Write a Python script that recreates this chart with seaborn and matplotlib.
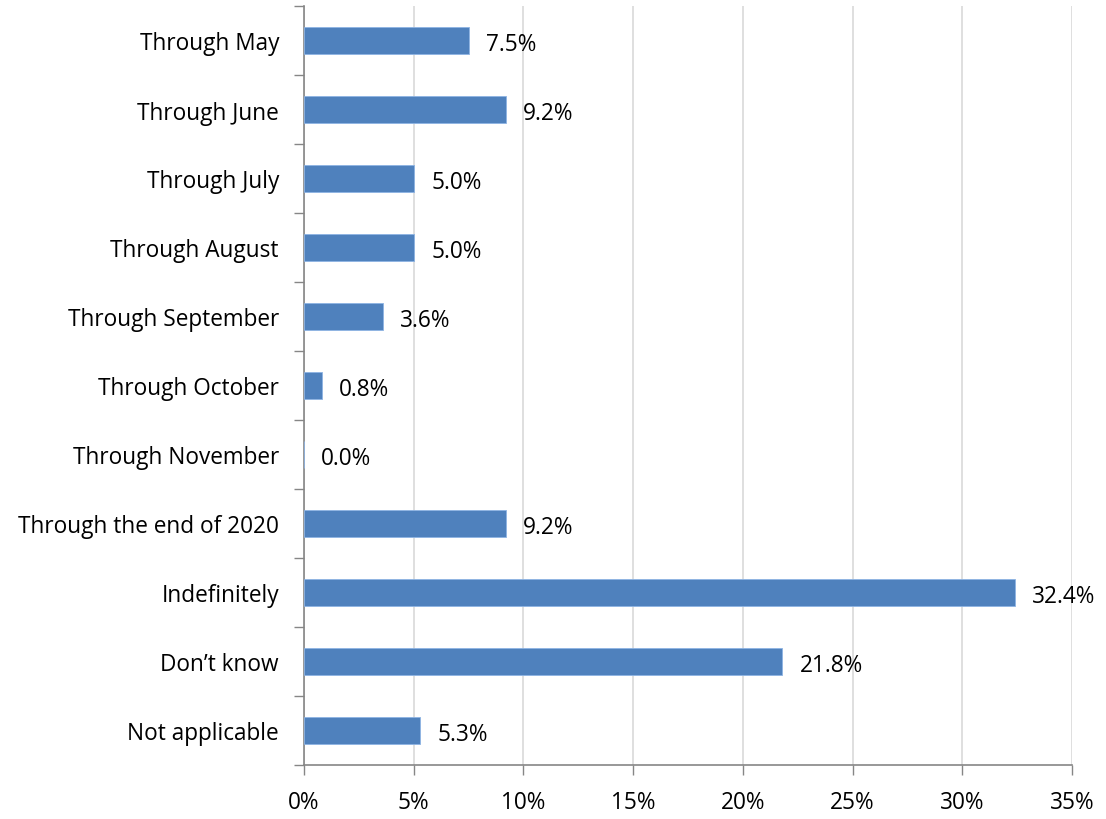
import matplotlib
matplotlib.use("Agg")
import matplotlib.pyplot as plt
import seaborn as sns
import pandas as pd
import numpy as np

categories = ["Through May", "Through June", "Through July", "Through August",
              "Through September", "Through October", "Through November",
              "Through the end of 2020", "Indefinitely", "Don\u2019t know",
              "Not applicable"]
values = [7.5, 9.2, 5.0, 5.0, 3.6, 0.8, 0.0, 9.2, 32.4, 21.8, 5.3]
x_ticks = [0, 5, 10, 15, 20, 25, 30, 35]
x_tick_labels = ["0%", "5%", "10%", "15%", "20%", "25%", "30%", "35%"]

df = pd.DataFrame({"category": categories, "value": values})

sns.set_theme(style="white")
plt.rcParams['font.family'] = ['Open Sans', 'DejaVu Sans']

fig = plt.figure(figsize=(11.06, 8.2), dpi=100)
ax = fig.add_axes([304/1106, (820-766)/820, (1072-304)/1106, (766-7)/820])

sns.barplot(data=df, x="value", y="category", orient="h", color="#4F81BD",
            saturation=1, width=0.4, edgecolor="#8EB4E3", linewidth=0.6, ax=ax, zorder=3)

fs = 16.3
ax.set_xlim(0, 35)
ax.set_ylim(len(categories) - 0.5, -0.5)
ax.set_xticks(x_ticks)
ax.set_xticklabels(x_tick_labels, fontsize=fs, color="#000000")
ax.set_xlabel("")
ax.set_ylabel("")
ax.tick_params(axis="y", which="major", length=0, pad=18, labelsize=fs, labelcolor="#000000")
ax.set_yticks(np.arange(-0.5, len(categories), 1.0), minor=True)
ax.tick_params(axis="y", which="minor", length=7, width=1, color="#868686", left=True)
ax.tick_params(axis="x", which="major", length=7, width=1, color="#868686", bottom=True, pad=11)

ax.grid(axis="x", color="#D9D9D9", linewidth=1.2, zorder=0)
ax.set_axisbelow(True)
for side in ["top", "right"]:
    ax.spines[side].set_visible(False)
for side in ["left", "bottom"]:
    ax.spines[side].set_color("#868686")
    ax.spines[side].set_linewidth(1.2)

for i, v in enumerate(values):
    ax.annotate(f"{v:.1f}%", xy=(v, i), xytext=(12.5, -2.5), textcoords="offset points",
                ha="left", va="center", fontsize=fs, color="#000000")

fig.savefig("out.png", dpi=100)
